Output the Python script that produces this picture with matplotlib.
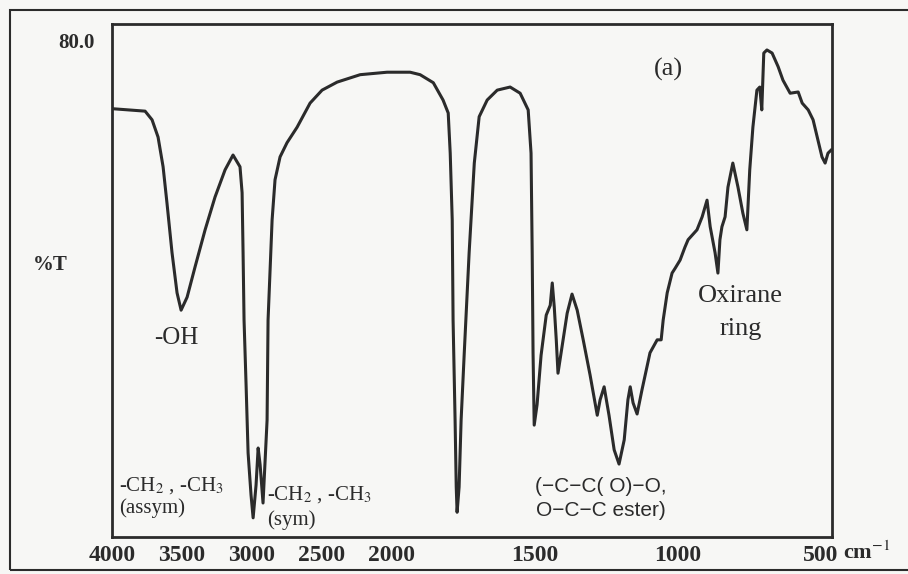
import numpy as np
import matplotlib
matplotlib.use("Agg")
import matplotlib.pyplot as plt
from matplotlib.patches import Rectangle

# FTIR spectrum (a)
wavenumber = [4000, 3763, 3713, 3670, 3634, 3606, 3570, 3534, 3505, 3462,
              3405, 3333, 3262, 3190, 3133, 3083, 3068, 3061, 3054, 3039,
              3025, 3004, 2989, 2968, 2953, 2939, 2918, 2903, 2889, 2882,
              2853, 2832, 2796, 2746, 2674, 2581, 2495, 2387, 2222, 2029,
              1934, 1899, 1853, 1819, 1801, 1794, 1787, 1784, 1777, 1773,
              1770, 1763, 1756, 1745, 1728, 1710, 1693, 1665, 1630, 1585,
              1550, 1522, 1512, 1508, 1505, 1501, 1491, 1477, 1459, 1445,
              1438, 1431, 1424, 1418, 1404, 1386, 1369, 1351, 1330, 1306,
              1281, 1271, 1257, 1240, 1222, 1205, 1187, 1174, 1166, 1156,
              1142, 1125, 1097, 1072, 1058, 1051, 1037, 1020, 1009, 992,
              975, 964, 933, 915, 898, 887, 870, 860, 853, 846,
              835, 825, 808, 790, 773, 759, 749, 738, 724, 714,
              707, 700, 689, 671, 650, 633, 608, 580, 566, 545,
              528, 511, 497, 486, 476, 465]
transmittance = [69.3, 68.9, 67.5, 64.7, 59.9, 54.0, 46.0, 39.5, 36.7, 38.8,
                 43.7, 49.7, 55.0, 59.4, 61.8, 59.9, 55.7, 46.0, 35.1, 24.3,
                 13.6, 6.8, 3.1, 8.4, 14.4, 11.7, 5.5, 12.5, 18.9, 35.1,
                 51.3, 57.8, 61.5, 63.8, 66.3, 70.2, 72.3, 73.6, 74.8, 75.2,
                 75.2, 74.8, 73.5, 70.7, 68.6, 62.1, 51.3, 35.1, 18.9, 8.1,
                 4.0, 8.1, 18.9, 29.8, 46.0, 60.5, 68.0, 70.7, 72.3, 72.8,
                 71.8, 69.1, 62.1, 46.0, 29.8, 18.1, 21.4, 29.4, 35.9, 37.5,
                 41.1, 37.2, 31.9, 26.5, 30.7, 36.2, 39.3, 36.7, 31.9, 26.2,
                 19.7, 22.2, 24.3, 19.7, 14.1, 11.8, 15.7, 22.2, 24.3, 21.7,
                 19.9, 23.8, 29.8, 31.9, 31.9, 35.1, 39.5, 42.7, 43.5, 44.8,
                 46.9, 48.1, 49.7, 51.8, 54.5, 50.2, 46.0, 42.7, 48.1, 50.2,
                 51.8, 56.6, 60.5, 56.6, 52.4, 49.7, 59.4, 66.3, 72.3, 72.8,
                 69.1, 78.3, 78.8, 78.3, 76.1, 73.9, 71.8, 72.0, 70.2, 69.1,
                 67.5, 64.2, 61.5, 60.5, 62.1, 62.6]

tick_pos = [4000, 3500, 3000, 2500, 2000, 1500, 1000, 500]
tick_txt = ["4000", "3500", "3000", "2500", "2000", "1500", "1000", "500"]

ink = "#2b2b2b"
plt.rcParams["mathtext.fontset"] = "stix"


# IR charts compress the scale above 2000 cm-1
def fwd(x):
    x = np.asarray(x, dtype=float)
    return np.where(x > 2000, 2000 + (x - 2000) * 0.487, x)


def inv(u):
    u = np.asarray(u, dtype=float)
    return np.where(u > 2000, 2000 + (u - 2000) / 0.487, u)


fig = plt.figure(figsize=(9.08, 5.74), dpi=100, facecolor="#f7f7f5")
ax = fig.add_axes([112 / 908, 1 - 537 / 574, 720 / 908, 513 / 574])
ax.set_facecolor("#f7f7f5")

ax.set_xscale("function", functions=(fwd, inv))
ax.plot(wavenumber, transmittance, color=ink, lw=2.2, solid_joinstyle="round")
ax.set_xlim(4000, 462)
ax.set_ylim(0, 83)

ax.set_xticks(tick_pos)
ax.set_xticklabels(tick_txt, family="Liberation Serif", fontweight="bold", fontsize=17, color=ink)
ax.set_yticks([])
ax.tick_params(axis="x", length=0, pad=6)
for s in ax.spines.values():
    s.set_linewidth(2.0)
    s.set_color(ink)

serif = "Liberation Serif"
fig.text(843 / 908, 1 - 553 / 574, "cm$^{-1}$", family=serif, fontweight="bold", fontsize=16,
         color=ink, va="center", ha="left")
fig.text(76 / 908, 1 - 43 / 574, "80.0", family=serif, fontweight="bold", fontsize=15,
         color=ink, va="center", ha="center")
fig.text(50 / 908, 1 - 265 / 574, "%T", family=serif, fontweight="bold", fontsize=15,
         color=ink, va="center", ha="center")

ax.text(3540, 34, "-OH", family=serif, fontsize=18, color=ink, ha="center", va="top")
fig.text(119 / 908, 1 - 486 / 574, "-CH$_2$ , -CH$_3$", family=serif, fontsize=15, color=ink, va="center")
fig.text(119 / 908, 1 - 508 / 574, "(assym)", family=serif, fontsize=15, color=ink, va="center")
fig.text(267 / 908, 1 - 495 / 574, "-CH$_2$ , -CH$_3$", family=serif, fontsize=15, color=ink, va="center")
fig.text(267 / 908, 1 - 520 / 574, "(sym)", family=serif, fontsize=15, color=ink, va="center")
fig.text(668 / 908, 1 - 69 / 574, "(a)", family=serif, fontsize=19, color=ink, va="center", ha="center")
fig.text(740 / 908, 1 - 296 / 574, "Oxirane", family=serif, fontsize=19, color=ink, va="center", ha="center")
fig.text(741 / 908, 1 - 329 / 574, "ring", family=serif, fontsize=19, color=ink, va="center", ha="center")
fig.text(535 / 908, 1 - 486 / 574, "(\u2212C\u2212C( O)\u2212O,", family="Liberation Sans", fontsize=15,
         color=ink, va="center")
fig.text(536 / 908, 1 - 510 / 574, "O\u2212C\u2212C ester)", family="Liberation Sans", fontsize=15,
         color=ink, va="center")

# outer frame of the scanned figure
fig.add_artist(Rectangle((10 / 908, 1 - 570 / 574), 1.2, 560 / 574, transform=fig.transFigure,
                         fill=False, lw=1.5, edgecolor=ink))

fig.savefig("out.png", dpi=100, facecolor=fig.get_facecolor())
